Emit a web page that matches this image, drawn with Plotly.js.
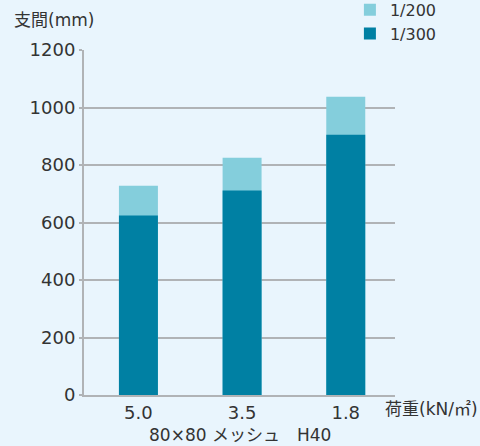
<!DOCTYPE html>
<html>
<head>
<meta charset="utf-8">
<script src="https://cdn.plot.ly/plotly-3.0.1.min.js"></script>
<style>html,body{margin:0;padding:0;background:#e9f5fd;}</style>
</head>
<body>
<div id="chart" style="width:480px;height:446px;"></div>
<script>
const categories = ["5.0", "3.5", "1.8"];
const span1_200 = [728, 825, 1037];
const span1_300 = [624, 711, 905];
const yTicks = [0, 200, 400, 600, 800, 1000, 1200];

const FONT = '"DejaVu Sans", "Noto Sans CJK JP", sans-serif';
const TXT = '#333333';
const GRID = '#b0b3b6';

const traces = [
  {type: 'bar', name: '1/200', x: categories, y: span1_200,
   marker: {color: '#84cedc'}, hoverinfo: 'none'},
  {type: 'bar', name: '1/300', x: categories, y: span1_300,
   marker: {color: '#0080a3'}, hoverinfo: 'none'}
];

const layout = {
  width: 480, height: 446,
  paper_bgcolor: '#e9f5fd', plot_bgcolor: '#e9f5fd',
  margin: {l: 84, r: 85, t: 50, b: 51, autoexpand: false},
  barmode: 'overlay', bargap: 0.624,
  font: {family: FONT, size: 18, color: TXT},
  showlegend: true,
  legend: {x: 0.855, xanchor: 'left', y: 1.166, yanchor: 'top', xref: 'paper',
           bgcolor: 'rgba(0,0,0,0)', font: {size: 16, color: TXT},
           itemwidth: 30, tracegroupgap: 0, traceorder: 'normal'},
  xaxis: {type: 'category', range: [-0.525, 2.475], showline: true, linecolor: GRID, linewidth: 2,
          ticks: '', showgrid: false, tickfont: {size: 18, color: TXT}, fixedrange: true},
  yaxis: {range: [0, 1200], tickvals: yTicks, ticktext: yTicks.map(String),
          showgrid: true, gridcolor: GRID, gridwidth: 2,
          showline: true, linecolor: GRID, linewidth: 2,
          ticks: 'outside', ticklen: 3, tickwidth: 2, tickcolor: GRID,
          zeroline: false, tickfont: {size: 18, color: TXT}, fixedrange: true},
  annotations: [
    {text: '支間(mm)', xref: 'paper', yref: 'paper', x: -0.232, y: 1.087,
     xanchor: 'left', yanchor: 'middle', showarrow: false, font: {size: 17, color: TXT}},
    {text: '荷重(kN/㎡)', xref: 'paper', yref: 'paper', x: 1.272, y: -0.042,
     xanchor: 'right', yanchor: 'middle', showarrow: false, font: {size: 17, color: TXT}},
    {text: '80×80 メッシュ　H40', xref: 'paper', yref: 'paper', x: 0.5016, y: -0.115,
     xanchor: 'center', yanchor: 'middle', showarrow: false, font: {size: 17, color: TXT}}
  ]
};

Plotly.newPlot('chart', traces, layout, {displayModeBar: false, staticPlot: true});
</script>
</body>
</html>
